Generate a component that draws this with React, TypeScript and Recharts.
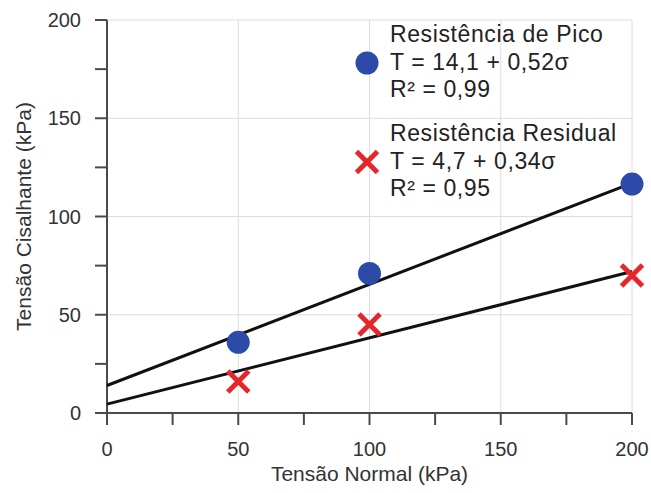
import { ScatterChart, Scatter, XAxis, YAxis, CartesianGrid, Label } from 'recharts';

// tensão normal (kPa) dos ensaios
const normalStress = [50, 100, 200];
// tensão cisalhante de pico e residual (kPa)
const peakShear = [36, 71, 116.5];
const residualShear = [16, 45, 70];

// extremos das retas de ajuste
const fitStress = [0, 200];
const peakFit = [14, 117];
const residualFit = [4.5, 72];

const axisTicks = [0, 25, 50, 75, 100, 125, 150, 175, 200];
const gridValues = [50, 100, 150, 200];

const FONT = '"Liberation Sans", Arial, sans-serif';
const BLUE = '#2c4aa8';
const RED = '#e5262b';
const AXIS = '#4a4a4a';

const toPoints = (xs: number[], ys: number[]) => xs.map((x, i) => ({ x, y: ys[i] }));

const peakData = toPoints(normalStress, peakShear);
const residualData = toPoints(normalStress, residualShear);
const peakFitData = toPoints(fitStress, peakFit);
const residualFitData = toPoints(fitStress, residualFit);

const Dot = (props: any) => <circle cx={props.cx} cy={props.cy} r={11.5} fill={BLUE} />;

const Cross = (props: any) => {
  const { cx, cy } = props;
  const h = 10.5;
  return (
    <g stroke={RED} strokeWidth={5} strokeLinecap="butt">
      <line x1={cx - h} y1={cy - h} x2={cx + h} y2={cy + h} />
      <line x1={cx - h} y1={cy + h} x2={cx + h} y2={cy - h} />
    </g>
  );
};

const NoShape = () => <g />;

const fmt = (v: number) => (v % 50 === 0 ? String(v) : '');

const textStyle: React.CSSProperties = {
  position: 'absolute',
  left: 390,
  fontFamily: FONT,
  fontSize: 23,
  lineHeight: '27.5px',
  letterSpacing: 0.6,
  color: '#222',
  whiteSpace: 'nowrap',
};

export default function App() {
  return (
    <div style={{ position: 'absolute', left: 0, top: 0, width: 651, height: 493, background: '#fff' }}>
      <ScatterChart width={651} height={493} margin={{ top: 20, right: 19, bottom: 0, left: 0 }}>
        <CartesianGrid
          stroke="#dcdcdc"
          strokeWidth={1}
          horizontalValues={gridValues}
          verticalValues={gridValues}
        />
        <XAxis
          type="number"
          dataKey="x"
          domain={[0, 200]}
          ticks={axisTicks}
          tickFormatter={fmt}
          height={80}
          tickSize={12}
          tickMargin={17}
          axisLine={{ stroke: AXIS, strokeWidth: 2 }}
          tickLine={{ stroke: AXIS, strokeWidth: 2 }}
          tick={{ fill: '#333', fontSize: 20, fontFamily: FONT }}
          interval={0}
        >
          <Label
            value="Tensão Normal (kPa)"
            position="insideBottom"
            offset={12}
            style={{ fill: '#333', fontSize: 21, fontFamily: FONT }}
          />
        </XAxis>
        <YAxis
          type="number"
          dataKey="y"
          domain={[0, 200]}
          ticks={axisTicks}
          tickFormatter={fmt}
          width={107}
          tickSize={12}
          tickMargin={14}
          axisLine={{ stroke: AXIS, strokeWidth: 2 }}
          tickLine={{ stroke: AXIS, strokeWidth: 2 }}
          tick={{ fill: '#333', fontSize: 20, fontFamily: FONT }}
          interval={0}
        >
          <Label
            value="Tensão Cisalhante (kPa)"
            angle={-90}
            position="insideLeft"
            offset={24}
            style={{ fill: '#333', fontSize: 21, fontFamily: FONT, textAnchor: 'middle' }}
          />
        </YAxis>
        <Scatter data={peakFitData} line={{ stroke: '#111', strokeWidth: 3 }} shape={NoShape} isAnimationActive={false} />
        <Scatter data={residualFitData} line={{ stroke: '#111', strokeWidth: 3 }} shape={NoShape} isAnimationActive={false} />
        <Scatter data={peakData} shape={Dot} isAnimationActive={false} />
        <Scatter data={residualData} shape={Cross} isAnimationActive={false} />
      </ScatterChart>

      {/* legenda com as equações de ajuste */}
      <svg style={{ position: 'absolute', left: 0, top: 0 }} width={651} height={493} pointerEvents="none">
        <Dot cx={367} cy={63} />
        <Cross cx={367} cy={162} />
      </svg>
      <div style={{ ...textStyle, top: 21 }}>
        Resistência de Pico<br />T = 14,1 + 0,52σ<br />R² = 0,99
      </div>
      <div style={{ ...textStyle, top: 120 }}>
        Resistência Residual<br />T = 4,7 + 0,34σ<br />R² = 0,95
      </div>
    </div>
  );
}
